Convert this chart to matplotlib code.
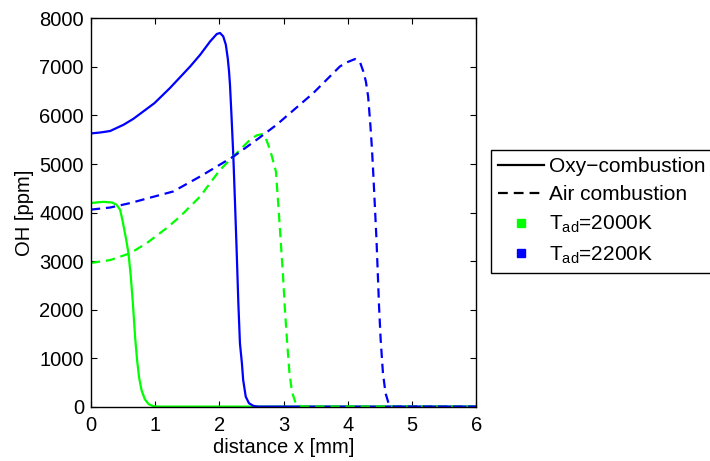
import matplotlib
matplotlib.use("Agg")
import matplotlib.pyplot as plt
from matplotlib.lines import Line2D

plt.rcParams['font.family'] = ['Liberation Sans', 'DejaVu Sans']
plt.rcParams['mathtext.fontset'] = 'custom'
plt.rcParams['mathtext.rm'] = 'Liberation Sans'
plt.rcParams['mathtext.it'] = 'Liberation Sans'

# OH profiles [ppm], distance x in mm
x_oxy_2000 = [0.0, 0.1, 0.2, 0.33, 0.40, 0.455, 0.49, 0.52, 0.55, 0.585, 0.62,
              0.655, 0.69, 0.72, 0.75, 0.79, 0.84, 0.90, 0.97, 1.05, 2.0,
              3.0, 6.0]
oh_oxy_2000 = [4195, 4210, 4220, 4206, 4160, 4056, 3850, 3643, 3437, 3160,
               2700, 2100, 1400, 950, 600, 330, 150, 50, 10, 0, 0, 0, 0]

x_oxy_2200 = [0.0, 0.15, 0.3, 0.51, 0.66, 0.99, 1.23, 1.545, 1.70, 1.855,
              1.96, 2.01, 2.06, 2.10, 2.13, 2.15, 2.165, 2.19, 2.217, 2.243,
              2.27, 2.295, 2.32, 2.35, 2.37, 2.41, 2.46, 2.53, 2.6, 4.0, 6.0]
oh_oxy_2200 = [5630, 5650, 5680, 5810, 5930, 6255, 6565, 7010, 7250, 7525,
               7680, 7700, 7630, 7460, 7180, 6910, 6630, 5950, 5155, 4200,
               3163, 2132, 1300, 900, 550, 206, 70, 14, 0, 0, 0]

x_air_2000 = [0.0, 0.3, 0.61, 0.87, 1.18, 1.39, 1.70, 2.01, 2.22, 2.476, 2.58,
              2.66, 2.71, 2.76, 2.81, 2.88, 2.92, 2.955, 2.99, 3.02, 3.055,
              3.09, 3.13, 3.18, 3.25, 3.32, 4.5, 6.0]
oh_air_2000 = [2960, 3020, 3160, 3370, 3680, 3920, 4330, 4880, 5160, 5499,
               5590, 5616, 5567, 5396, 5190, 4845, 4100, 3400, 2700, 2000,
               1310, 700, 300, 100, 20, 0, 0, 0]

x_air_2200 = [0.0, 0.30, 0.61, 0.895, 1.28, 1.70, 2.22, 2.58, 2.89, 3.25,
              3.46, 3.875, 3.98, 4.11, 4.19, 4.24, 4.28, 4.315, 4.35, 4.375,
              4.395, 4.42, 4.445, 4.465, 4.485, 4.51, 4.545, 4.585, 4.63,
              4.68, 4.72, 6.0]
oh_air_2200 = [4060, 4103, 4194, 4297, 4433, 4742, 5155, 5499, 5808, 6220,
               6460, 7010, 7093, 7163, 7093, 6907, 6700, 6390, 5800, 5300,
               4800, 4120, 3440, 2750, 2060, 1375, 700, 280, 80, 10, 0, 0]

legend_labels = ['Oxy\u2212combustion', 'Air combustion',
                 r'T$_{\mathrm{ad}}$=2000K', r'T$_{\mathrm{ad}}$=2200K']

green = '#00ff00'
blue = '#0000ff'
fs = 14.5

fig = plt.figure(figsize=(7.10, 4.61), dpi=100)
ax = fig.add_axes([0.128, 0.118, 0.543, 0.842])

lw = 1.6
dash = (4.2, 2.6)
ax.plot(x_oxy_2000, oh_oxy_2000, color=green, lw=lw)
ax.plot(x_oxy_2200, oh_oxy_2200, color=blue, lw=lw)
ax.plot(x_air_2000, oh_air_2000, color=green, lw=lw, linestyle='--', dashes=dash)
ax.plot(x_air_2200, oh_air_2200, color=blue, lw=lw, linestyle='--', dashes=dash)

ax.set_xlim(0, 6)
ax.set_ylim(0, 8000)
ax.set_xticks(range(0, 7))
ax.set_yticks(range(0, 8001, 1000))
ax.tick_params(direction='in', top=True, right=True, length=4, width=0.8,
               labelsize=fs, pad=5)
ax.tick_params(axis='x', pad=7)
for s in ax.spines.values():
    s.set_linewidth(1.0)
ax.set_xlabel('distance x [mm]', fontsize=fs, labelpad=2)
ax.set_ylabel('OH [ppm]', fontsize=fs, labelpad=4)

handles = [Line2D([], [], color='k', lw=lw),
           Line2D([], [], color='k', lw=lw, linestyle='--', dashes=(4.4, 2.7)),
           Line2D([], [], color=green, marker='s', linestyle='None', markersize=6),
           Line2D([], [], color=blue, marker='s', linestyle='None', markersize=6)]
leg = fig.legend(handles, legend_labels, loc='upper left',
                 bbox_to_anchor=(0.691, 0.675), bbox_transform=fig.transFigure,
                 borderaxespad=0, fontsize=15, fancybox=False, frameon=True,
                 edgecolor='k', framealpha=1, handlelength=2.2,
                 handletextpad=0.25, labelspacing=0.45, borderpad=0.35)
leg.get_frame().set_linewidth(1.0)

fig.savefig('out.png', dpi=100)
